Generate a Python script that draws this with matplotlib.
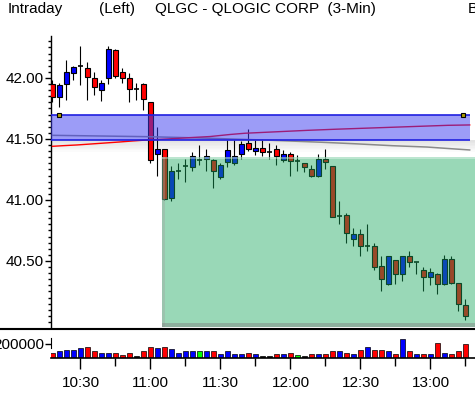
import matplotlib
matplotlib.use('Agg')
import matplotlib.pyplot as plt
from matplotlib.patches import Rectangle
from matplotlib.lines import Line2D
from matplotlib.ticker import MultipleLocator, FixedLocator, NullFormatter

plt.rcParams['font.family'] = ['Liberation Sans', 'DejaVu Sans']

# QLGC 3-minute bars, 10:18 .. 13:15
opens = [41.95, 41.84, 41.95, 42.04, 42.10, 42.08, 42.00, 41.90, 42.00, 42.23,
         42.05, 42.00, 41.91, 41.95, 41.80, 41.38, 41.42, 41.02, 41.24, 41.28,
         41.27, 41.33, 41.34, 41.33, 41.19, 41.31, 41.30, 41.38, 41.47, 41.40,
         41.43, 41.39, 41.42, 41.33, 41.38, 41.32, 41.30, 41.25, 41.20, 41.34,
         41.28, 40.87, 40.88, 40.68, 40.72, 40.62, 40.62, 40.46, 40.31, 40.51,
         40.39, 40.54, 40.49, 40.43, 40.37, 40.39, 40.31, 40.52, 40.32, 40.14]
highs = [41.98, 41.96, 42.15, 42.10, 42.26, 42.13, 42.05, 41.98, 42.26, 42.24,
         42.08, 42.04, 41.96, 41.96, 41.80, 41.60, 41.42, 41.28, 41.30, 41.34,
         41.39, 41.45, 41.42, 41.34, 41.30, 41.49, 41.49, 41.48, 41.58, 41.49,
         41.50, 41.47, 41.45, 41.41, 41.39, 41.37, 41.30, 41.29, 41.38, 41.42,
         41.28, 40.99, 40.89, 40.77, 40.76, 40.80, 40.65, 40.54, 40.54, 40.51,
         40.54, 40.58, 40.49, 40.45, 40.44, 40.40, 40.55, 40.54, 40.32, 40.19]
lows = [41.80, 41.76, 41.82, 41.98, 41.94, 41.82, 41.86, 41.81, 41.95, 42.00,
        41.96, 41.80, 41.82, 41.74, 41.30, 41.20, 41.00, 40.99, 41.17, 41.15,
        41.24, 41.29, 41.24, 41.10, 41.17, 41.27, 41.29, 41.34, 41.40, 41.37,
        41.36, 41.34, 41.29, 41.31, 41.20, 41.24, 41.23, 41.19, 41.19, 41.25,
        40.86, 40.80, 40.65, 40.62, 40.54, 40.58, 40.43, 40.25, 40.30, 40.31,
        40.34, 40.45, 40.39, 40.25, 40.30, 40.23, 40.30, 40.31, 40.09, 40.02]
closes = [41.84, 41.94, 42.05, 42.09, 42.10, 42.01, 41.93, 41.96, 42.24, 42.02,
          42.00, 41.91, 41.91, 41.83, 41.33, 41.42, 41.01, 41.24, 41.24, 41.28,
          41.36, 41.33, 41.36, 41.24, 41.29, 41.41, 41.36, 41.46, 41.42, 41.43,
          41.39, 41.39, 41.36, 41.38, 41.32, 41.32, 41.27, 41.20, 41.34, 41.31,
          40.86, 40.87, 40.73, 40.72, 40.62, 40.62, 40.45, 40.35, 40.54, 40.39,
          40.54, 40.49, 40.49, 40.37, 40.41, 40.31, 40.52, 40.32, 40.15, 40.05]

volumes = [67000, 86000, 110000, 110000, 138000, 152000, 100000, 71000, 71000, 67000,
           38000, 67000, 28000, 100000, 152000, 138000, 152000, 124000, 71000, 86000,
           100000, 86000, 86000, 100000, 57000, 100000, 43000, 43000, 71000, 57000,
           28000, 28000, 43000, 43000, 71000, 38000, 28000, 43000, 57000, 43000,
           86000, 86000, 71000, 43000, 110000, 152000, 110000, 110000, 100000, 43000,
           271000, 86000, 57000, 57000, 57000, 214000, 71000, 57000, 86000, 200000]
vol_colors = ['r', 'b', 'b', 'b', 'b', 'r', 'r', 'b', 'b', 'r',
              'r', 'r', 'k', 'r', 'r', 'b', 'r', 'b', 'b', 'b',
              'b', 'g', 'b', 'r', 'b', 'b', 'b', 'b', 'r', 'b',
              'k', 'k', 'r', 'b', 'r', 'g', 'k', 'r', 'b', 'r',
              'r', 'b', 'r', 'b', 'r', 'b', 'r', 'r', 'b', 'r',
              'b', 'r', 'b', 'r', 'b', 'r', 'b', 'r', 'r', 'r']

# overlay studies (bar position, price)
ma_bars = [0, 1.5, 3.5, 5.5, 7.5, 9.5, 11.5, 13.5, 16.4, 19.6, 22.5,
           25.4, 27.5, 30.5, 33.5, 36.5, 40.5, 44.5, 48.5, 52.5, 56.5, 59.6]
ma_values = [41.440, 41.445, 41.451, 41.459, 41.467, 41.475, 41.484, 41.492, 41.500, 41.511, 41.520,
             41.537, 41.547, 41.555, 41.563, 41.571, 41.580, 41.588, 41.596, 41.604, 41.612, 41.615]
avg_bars = [0, 13.5, 22.5, 25.4, 31, 38.5, 43.5, 48.5, 53.5, 57, 59.6]
avg_values = [41.530, 41.519, 41.506, 41.500, 41.490, 41.473, 41.460, 41.445, 41.434, 41.420, 41.410]

band_low, band_high = 41.49, 41.70
band_end = 59.6
band_marks = [1, 58.6]
zone_top = 41.352
zone_start = 15.64

time_labels = ['10:30', '11:00', '11:30', '12:00', '12:30', '13:00']
time_bars = [4, 14, 24, 34, 44, 54]
quarter_bars = [9, 19, 29, 39, 49, 59]

W, H = 475, 394
XMIN, XMAX = -0.214, 60.36
YMIN, YMAX = 39.959, 42.344


def px_rect(x0, y0, x1, y1):
    return [x0 / W, 1 - y1 / H, (x1 - x0) / W, (y1 - y0) / H]


def draw_candles(ax):
    for i in range(len(opens)):
        o, h, l, c = opens[i], highs[i], lows[i], closes[i]
        ax.vlines(i, l, h, color='black', lw=0.8, zorder=2)
        if o == c:
            ax.hlines(o, i - 0.36, i + 0.36, color='black', lw=1.2, zorder=3)
        else:
            face = '#0000ff' if c > o else '#ff0000'
            ax.add_patch(Rectangle((i - 0.33, min(o, c)), 0.66, abs(c - o),
                                   facecolor=face, edgecolor='black', lw=0.8, zorder=3))


def main():
    fig = plt.figure(figsize=(W / 100, H / 100), dpi=100)

    ax = fig.add_axes(px_rect(51, 36, 475, 327))
    ax.set_xlim(XMIN, XMAX)
    ax.set_ylim(YMIN, YMAX)
    for s in ['top', 'right', 'bottom']:
        ax.spines[s].set_visible(False)
    ax.spines['left'].set_linewidth(1.0)
    ax.set_xticks([])
    ax.yaxis.set_major_locator(FixedLocator([40.5, 41.0, 41.5, 42.0]))
    ax.yaxis.set_minor_locator(MultipleLocator(0.05))
    ax.set_yticklabels(['40.50', '41.00', '41.50', '42.00'])
    ax.tick_params(axis='y', which='major', length=4, width=1, pad=1, labelsize=11)
    ax.tick_params(axis='y', which='minor', length=2, width=1)

    # faint shadow under the band
    for j in range(8):
        y1 = band_low - j * 0.012
        ax.add_patch(Rectangle((XMIN, y1 - 0.012), XMAX - XMIN, 0.012,
                               facecolor='#808080', alpha=0.22 * (1 - j / 8),
                               lw=0, zorder=1))

    draw_candles(ax)
    ax.plot(avg_bars, avg_values, color='#8a8a8a', lw=1.1, zorder=4)
    ax.plot(ma_bars, ma_values, color='#ff0000', lw=1.0, zorder=4)

    ax.add_patch(Rectangle((XMIN, band_low), band_end - XMIN, band_high - band_low,
                           facecolor='#3a3af0', alpha=0.5, lw=0, zorder=5))
    ax.hlines([band_low, band_high], XMIN, band_end, color='#2020e0', lw=1.2, zorder=6)
    ax.plot(band_marks, [band_high, band_high], ls='none', marker='s', ms=3.5,
            mfc='#b0a000', mec='black', mew=0.8, zorder=7)

    green = (0.09, 0.66, 0.36)
    ax.add_patch(Rectangle((zone_start, YMIN), XMAX - zone_start, zone_top - YMIN,
                           facecolor=green, alpha=0.44, lw=0, zorder=5))
    # soft edges of the zone
    ax.add_patch(Rectangle((zone_start, YMIN), 0.45, zone_top - YMIN,
                           facecolor='#a0a0a0', alpha=0.35, lw=0, zorder=5))
    ax.add_patch(Rectangle((zone_start, YMIN), XMAX - zone_start, 0.03,
                           facecolor='#808080', alpha=0.45, lw=0, zorder=5))
    ax.add_patch(Rectangle((zone_start, zone_top - 0.02), XMAX - zone_start, 0.02,
                           facecolor='white', alpha=0.35, lw=0, zorder=5))

    # volume panel
    vax = fig.add_axes(px_rect(51, 329.5, 475, 357.5))
    vax.set_xlim(XMIN, XMAX)
    vax.set_ylim(0, 400000)
    cmap = {'r': '#ff0000', 'b': '#0000ff', 'g': '#00ff00', 'k': '#000000'}
    vax.bar(range(len(volumes)), volumes, width=0.66,
            color=[cmap[c] for c in vol_colors], edgecolor='black', lw=0.5)
    for s in ['top', 'right']:
        vax.spines[s].set_visible(False)
    vax.spines['left'].set_bounds(135000, 280000)
    vax.spines['bottom'].set_linewidth(1.2)
    vax.set_yticks([200000])
    vax.set_yticklabels(['200000'])
    vax.tick_params(axis='y', length=4, width=1, pad=1, labelsize=11)
    vax.xaxis.set_major_locator(FixedLocator(time_bars))
    vax.xaxis.set_minor_locator(FixedLocator(quarter_bars))
    vax.xaxis.set_minor_formatter(NullFormatter())
    vax.set_xticklabels(time_labels)
    vax.tick_params(axis='x', which='major', length=8, width=1, pad=5, labelsize=11)
    vax.tick_params(axis='x', which='minor', length=5.5, width=1)

    # separator between panels
    for yp in (327.5, 329.3):
        fig.add_artist(Line2D([0, 1], [1 - yp / H, 1 - yp / H], color='black', lw=0.8))

    ty = 1 - 9 / H
    fig.text(8 / W, ty, 'Intraday', va='center', fontsize=11)
    fig.text(99 / W, ty, '(Left)', va='center', fontsize=11)
    fig.text(155 / W, ty, 'QLGC - QLOGIC CORP  (3-Min)', va='center', fontsize=11)
    fig.text(468 / W, ty, 'B', va='center', fontsize=11)

    fig.savefig('out.png', dpi=100)


if __name__ == '__main__':
    main()
